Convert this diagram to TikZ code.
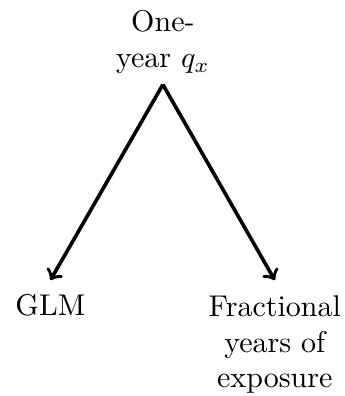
\documentclass[tikz,border=0pt]{standalone}
\usepackage{amsmath}
\begin{document}
\begin{tikzpicture}[x=1pt, y=1pt, leaf/.style={align=center, anchor=north}]
        \useasboundingbox (0,0) rectangle (115,132);
        % Draw nodes
        \node[align=center, anchor=south] (qx) at (54.3,103.8) {One-\\year $q_x$};
        \node[leaf] (glm) at (16.8,38.6) {\strut GLM};
        \node[leaf] (frac) at (91.6,38.6) {\strut Fractional\\years of\\exposure};
        
        % Draw connections
        \draw[->, very thick] (qx.south) -- (glm.north);
        \draw[->, very thick] (qx.south) -- (frac.north);
    \end{tikzpicture}
\end{document}
